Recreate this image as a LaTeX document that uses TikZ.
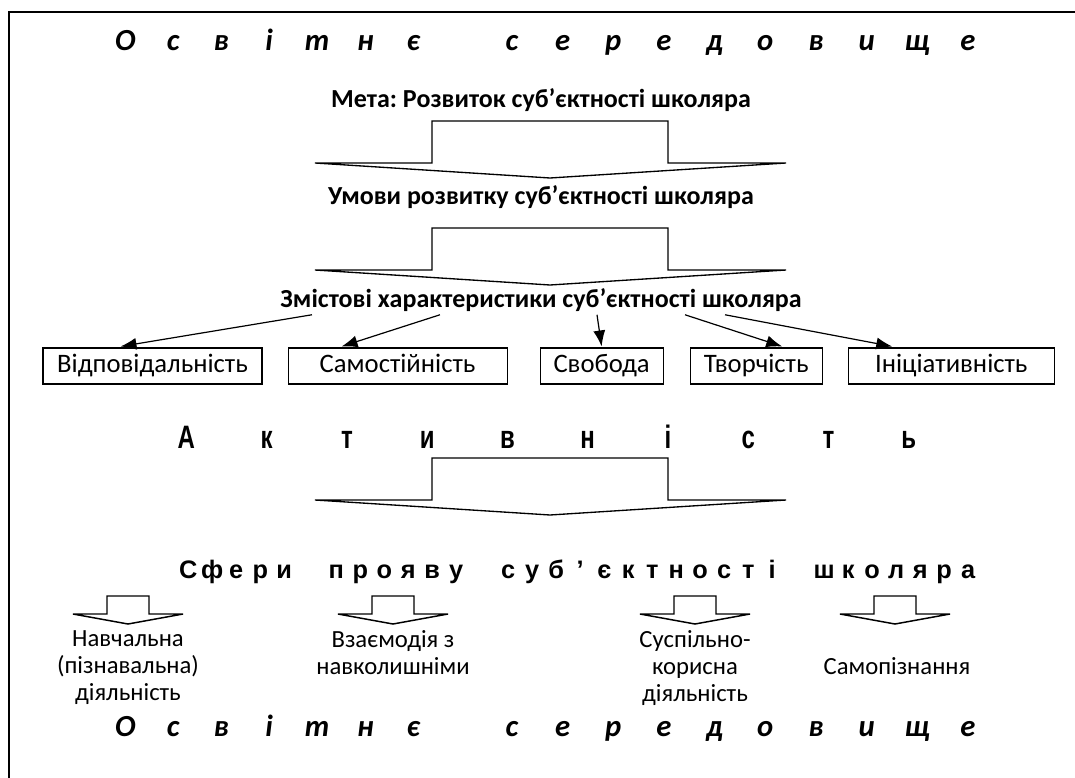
\documentclass[tikz,border=0pt]{standalone}
\usepackage{fontspec}
\setmainfont{Carlito}
\newfontfamily\heavyfont{Liberation Sans}
\usepackage{graphicx}
\usepackage{tikz}
\usetikzlibrary{arrows.meta,positioning}
\frenchspacing

% letters spread over equal slots
\newcommand\spreadword[2]{\def\spreadw{#1}\spreadnext#2\relax}
\def\spreadnext#1{\ifx\relax#1\else\makebox[\spreadw]{#1}\expandafter\spreadnext\fi}

\begin{document}
\begin{tikzpicture}[x=0.75pt, y=-0.75pt, every node/.style={inner sep=0pt}, envtitle/.style={font=\fontsize{23}{25}\selectfont\bfseries\itshape}, head/.style={font=\fontsize{19.5}{22}\selectfont\bfseries}, heavy/.style={font=\heavyfont\fontsize{19}{21}\selectfont\bfseries}, box/.style={draw, line width=0.8pt, minimum height=27pt, text height=13pt, text depth=4pt, font=\fontsize{20}{22}\selectfont}, spherelbl/.style={align=center, font=\fontsize{18.5}{20.5}\selectfont}, arr/.style={-{Latex[length=12pt,width=9pt]}, line width=0.9pt}, bigarrow/.pic={\draw[line width=1pt] (-235,42)--(-118,42)--(-118,0)--(118,0)--(118,42)--(236,42)--(0,57)--cycle;}, smallarrow/.pic={\draw[line width=1.1pt] (-55,18)--(-21,18)--(-21,0)--(21,0)--(21,18)--(55,18)--(0,28)--cycle;}]
\useasboundingbox (0,0) rectangle (1075,778);
\draw[line width=0.9pt] (9,778) -- (9,12) -- (1075,12);
\node[envtitle, anchor=west] (envtop) at (101,42) {\spreadword{36pt}{Освітнє}\hspace{37pt}\spreadword{38pt}{середовище}};
\node[head] (meta) at (541,100) {Мета: Розвиток суб’єктності школяра};
\pic at (550,121) {bigarrow};
\node[head] (umovy) at (541,197) {Умови розвитку суб’єктності школяра};
\pic at (550,228) {bigarrow};
\node[head] (zmist) at (541,300) {Змістові характеристики суб’єктності школяра};
\node[box, minimum width=164.25pt] (vid) at (152.5,366) {Відповідальність};
\node[box, minimum width=164.25pt, right=18.75pt of vid] (sam) {Самостійність};
\node[box, minimum width=92.25pt, right=24pt of sam] (svo) {Свобода};
\node[box, minimum width=99pt, right=19.5pt of svo] (tvo) {Творчість};
\node[box, minimum width=154.5pt, right=18.75pt of tvo] (ini) {Ініціативність};
\foreach \b/\sx/\ex in {vid/-229/-32, sam/-101/-56, svo/56/0, tvo/144/26, ini/184/-59}{\draw[arr] ([shift={(\sx,3)}]zmist.south) -- ([shift={(\ex,-1)}]\b.north);}
\node[heavy, anchor=west] (akt) at (146,437) {\scalebox{1}[1.35]{\fontsize{18}{20}\selectfont\spreadword{60.2pt}{Активність}}};
\pic at (550,458) {bigarrow};
\node[heavy, anchor=west] (sfery) at (176,572) {\spreadword{18pt}{Сфери}\hspace{21pt}\spreadword{18pt}{прояву}\hspace{21pt}\spreadword{18pt}{суб’єктності}\hspace{21pt}\spreadword{18pt}{школяра}};
\foreach \x in {128,393,695,895}{\pic at (\x,596) {smallarrow};}
\node[spherelbl, anchor=north] (learn) at (128,630) {Навчальна\\(пізнавальна)\\діяльність};
\node[spherelbl, anchor=north] (interact) at (393,630) {Взаємодія з\\навколишніми};
\node[spherelbl, anchor=north] (social) at (695,630) {Суспільно-\\корисна\\діяльність};
\node[spherelbl] (selfknow) at (897,666) {Самопізнання};
\node[envtitle, anchor=west] (envbot) at (101,728) {\spreadword{36pt}{Освітнє}\hspace{37pt}\spreadword{38pt}{середовище}};
\end{tikzpicture}
\end{document}
